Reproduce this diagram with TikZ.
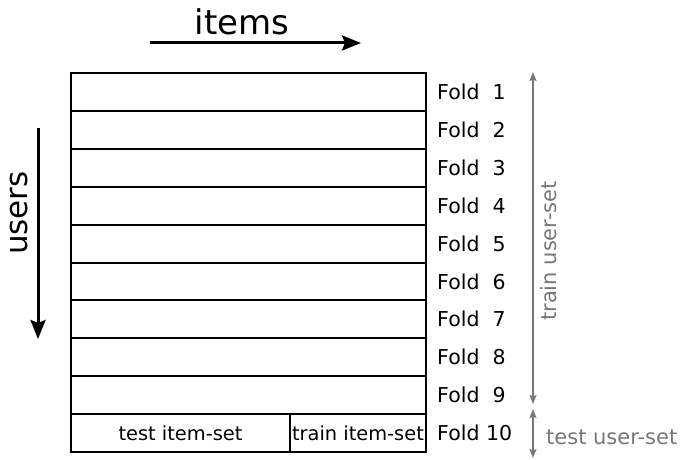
\documentclass[tikz,border=0pt]{standalone}
\usepackage{fontspec}
\setmainfont{DejaVu Sans}
\usetikzlibrary{arrows.meta}
\definecolor{lbl}{HTML}{777777}
\begin{document}
\begin{tikzpicture}[x=1pt,y=-1pt,
  rowbox/.style={draw=black,line width=2pt,minimum width=355pt,minimum height=37.9pt,inner sep=0pt,anchor=north west},
  halfbox/.style={draw=black,line width=2pt,minimum height=37.9pt,inner sep=0pt,anchor=north west,font=\fontsize{19.4}{22}\selectfont},
  foldlbl/.style={anchor=west,inner sep=0pt,font=\fontsize{20.5}{24}\selectfont},
  bigarrow/.style={line width=3pt,-{Stealth[length=19pt,width=15pt,inset=3pt]}},
  grayarrow/.style={draw=lbl,line width=1.4pt,{Stealth[length=9pt,width=7pt,inset=1.5pt]}-{Stealth[length=9pt,width=7pt,inset=1.5pt]}},
  graylbl/.style={text=lbl,inner sep=0pt,font=\fontsize{21}{24}\selectfont}]
\useasboundingbox (0,0) rectangle (683,460);
% rows
\foreach \i in {1,...,9}{
  \node[rowbox] (r\i) at (70,{72+37.9*(\i-1)}) {};
}
\node[halfbox,minimum width=219pt] (testitems) at (70,413.1) {test item-set};
\node[halfbox,minimum width=136pt] (trainitems) at (289,413.1) {train item-set};
% fold labels
\foreach \i in {1,...,9}{
  \node[foldlbl] (f\i) at (437,{72+37.9*(\i-0.5)+1}) {Fold\ \ \i};
}
\node[foldlbl] (f10) at (437,433) {Fold 10};
% items / users
\node[inner sep=0pt,font=\fontsize{34}{40}\selectfont] (items) at (242,22) {items};
\coordinate (ia) at (150,43);
\coordinate (ib) at (361,43);
\draw[bigarrow] (ia) -- (ib);
\node[inner sep=0pt,rotate=90,font=\fontsize{31}{36}\selectfont] (users) at (19,213) {users};
\coordinate (ua) at (38,128);
\coordinate (ub) at (38,339);
\draw[bigarrow] (ua) -- (ub);
% user-set arrows
\coordinate (ta) at (533,72);
\coordinate (tb) at (533,404);
\coordinate (sa) at (533,409);
\coordinate (sb) at (533,458);
\draw[grayarrow] (ta) -- (tb);
\draw[grayarrow] (sa) -- (sb);
\node[graylbl,rotate=90] (trainlbl) at (549,251) {train user-set};
\node[graylbl,anchor=west] (testlbl) at (546,437) {test user-set};
\end{tikzpicture}
\end{document}
